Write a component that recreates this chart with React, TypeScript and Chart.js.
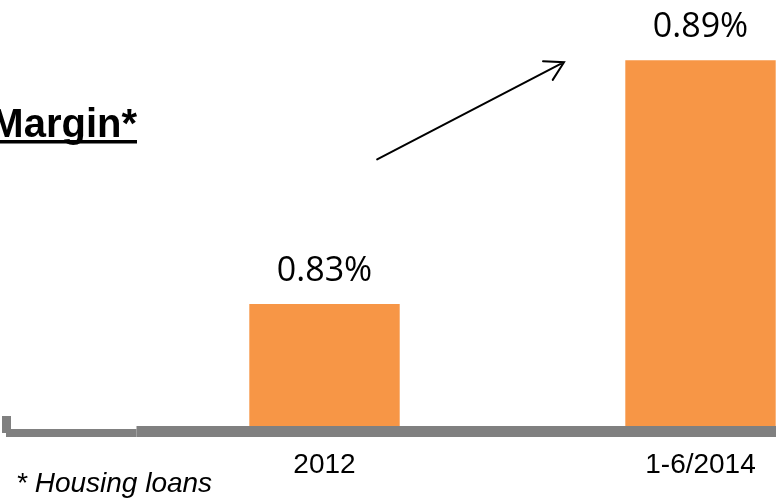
import React, { useEffect, useRef } from 'react';
import { Chart, registerables } from 'chart.js';

Chart.register(...registerables);

// ---- data ----
const categories = ['2012', '1-6/2014'];
const marginValues = [0.83, 0.89];
const valueLabels = ['0.83%', '0.89%'];
const titleText = 'Margin*';
const footnoteText = '* Housing loans';
const yMin = 0.8;
const yMax = 0.9;
// arrow annotation in data space (category index, value)
const arrowFrom = [0.14, 0.8656];
const arrowTo = [0.637, 0.8895];

const BAR_COLOR = '#F79646';
const AXIS_COLOR = '#808080';

const decorPlugin = {
  id: 'decor',
  afterDraw(chart: any) {
    const ctx = chart.ctx as CanvasRenderingContext2D;
    const { left, bottom } = chart.chartArea;
    const xs = chart.scales.x;
    const ys = chart.scales.y;
    ctx.save();

    // axis line
    ctx.fillStyle = AXIS_COLOR;
    ctx.fillRect(left, bottom, chart.width - left, 11);
    ctx.fillRect(6, bottom + 3, left - 6, 8);
    ctx.fillRect(2, bottom - 10, 9, 17);

    // value labels
    const meta = chart.getDatasetMeta(0);
    ctx.fillStyle = '#000';
    ctx.font = '34px "Open Sans"';
    ctx.textAlign = 'center';
    ctx.textBaseline = 'alphabetic';
    meta.data.forEach((bar: any, i: number) => {
      ctx.fillText(valueLabels[i], bar.x, bar.y - 23);
    });

    // title (underlined, cut at the left edge)
    ctx.font = 'bold 40px "Liberation Sans"';
    ctx.textAlign = 'right';
    ctx.fillText(titleText, 137, 137);
    const w = ctx.measureText(titleText).width;
    ctx.fillRect(137 - w, 140, w, 3.5);

    // footnote
    ctx.font = 'italic 28px "Liberation Sans"';
    ctx.textAlign = 'left';
    ctx.fillText(footnoteText, 16, 492);

    // arrow
    const x1 = xs.getPixelForValue(arrowFrom[0]);
    const y1 = ys.getPixelForValue(arrowFrom[1]);
    const x2 = xs.getPixelForValue(arrowTo[0]);
    const y2 = ys.getPixelForValue(arrowTo[1]);
    ctx.strokeStyle = '#000';
    ctx.lineWidth = 2;
    ctx.lineCap = 'round';
    ctx.beginPath();
    ctx.moveTo(x1, y1);
    ctx.lineTo(x2, y2);
    const ang = Math.atan2(y1 - y2, x1 - x2);
    const len = 21;
    const spread = Math.PI / 6;
    ctx.moveTo(x2 + len * Math.cos(ang + spread), y2 + len * Math.sin(ang + spread));
    ctx.lineTo(x2, y2);
    ctx.lineTo(x2 + len * Math.cos(ang - spread), y2 + len * Math.sin(ang - spread));
    ctx.stroke();

    ctx.restore();
  },
};

export default function App() {
  const canvasRef = useRef<HTMLCanvasElement | null>(null);

  useEffect(() => {
    const canvas = canvasRef.current;
    if (!canvas) return;
    const chart = new Chart(canvas, {
      type: 'bar',
      data: {
        labels: categories,
        datasets: [
          {
            data: marginValues,
            backgroundColor: BAR_COLOR,
            borderWidth: 0,
            categoryPercentage: 1,
            barPercentage: 0.4,
          },
        ],
      },
      options: {
        responsive: false,
        animation: false,
        devicePixelRatio: 1,
        layout: { padding: { left: 136.5, top: 19.5, right: 11.5, bottom: 0 } },
        plugins: { legend: { display: false }, tooltip: { enabled: false }, title: { display: false } },
        scales: {
          x: {
            grid: { display: false, drawTicks: false },
            border: { display: false },
            ticks: {
              color: '#000',
              padding: 22,
              maxRotation: 0,
              font: { family: '"Liberation Sans", Arial, sans-serif', size: 28 },
            },
            afterFit: (scale: any) => {
              scale.height = 73;
            },
          },
          y: { display: false, min: yMin, max: yMax },
        },
      },
      plugins: [decorPlugin],
    });
    return () => chart.destroy();
  }, []);

  return (
    <div
      style={{
        position: 'fixed',
        left: 0,
        top: 0,
        width: 776,
        height: 499,
        overflow: 'hidden',
        background: '#fff',
      }}
    >
      <canvas ref={canvasRef} width={900} height={499} style={{ display: 'block', width: 900, height: 499 }} />
    </div>
  );
}
